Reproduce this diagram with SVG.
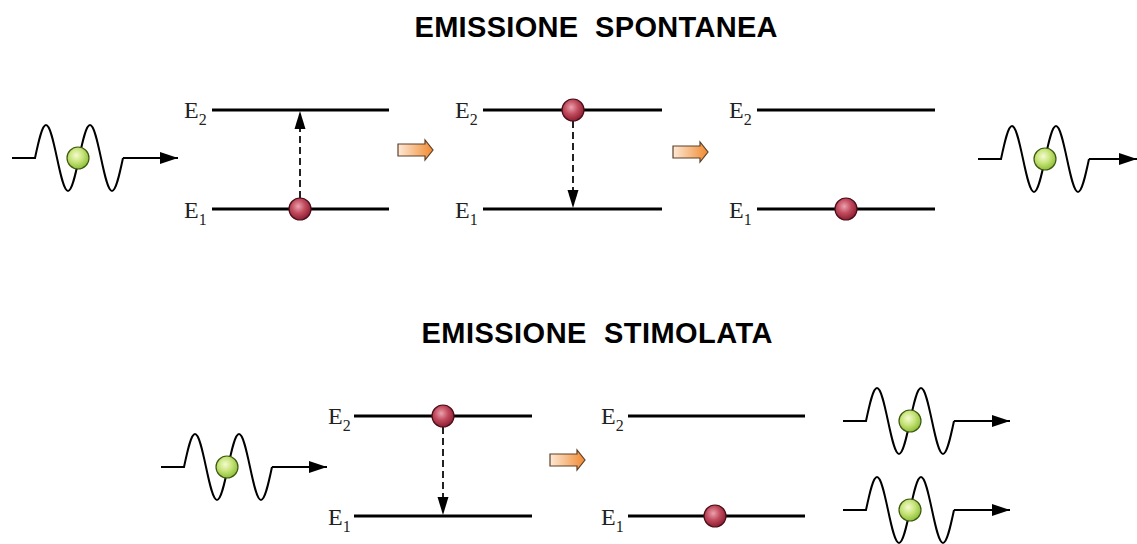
<svg xmlns="http://www.w3.org/2000/svg" xmlns:xlink="http://www.w3.org/1999/xlink" width="1137" height="544" viewBox="0 0 1137 544">
  <style>
    .title { font-family: "Liberation Sans", Arial, sans-serif; font-weight: bold; font-size: 29px; fill: #000; text-anchor: middle; }
    .lbl { font-family: "Liberation Serif", "Times New Roman", serif; font-size: 24px; fill: #222; }
    .sub { font-size: 16px; }
    .level { stroke: #000; stroke-width: 3; }
    .wave { fill: none; stroke: #000; stroke-width: 2; }
    .tail { stroke: #000; stroke-width: 2; marker-end: url(#head); }
    .jump { stroke: #222; stroke-width: 2; stroke-dasharray: 7 4; marker-end: url(#dhead); }
    .electron { fill: url(#red); stroke: #4a0d18; stroke-width: 1.2; }
    .photon { fill: url(#green); stroke: #3d5a10; stroke-width: 1.2; }
    .step { fill: url(#orange); stroke: #5e4028; stroke-width: 1.2; }
  </style>
  <defs>
    <radialGradient id="red" cx="0.42" cy="0.38" r="0.62">
      <stop offset="0" stop-color="#eaa2b0"/>
      <stop offset="0.5" stop-color="#c24c5e"/>
      <stop offset="1" stop-color="#8c1e33"/>
    </radialGradient>
    <radialGradient id="green" cx="0.42" cy="0.38" r="0.62">
      <stop offset="0" stop-color="#f4fbd2"/>
      <stop offset="0.5" stop-color="#c8e47a"/>
      <stop offset="1" stop-color="#8fbf3a"/>
    </radialGradient>
    <linearGradient id="orange" x1="0" y1="0" x2="1" y2="0">
      <stop offset="0" stop-color="#fde9d6"/>
      <stop offset="1" stop-color="#f08a30"/>
    </linearGradient>
    <marker id="head" markerUnits="userSpaceOnUse" markerWidth="18" markerHeight="12" refX="18" refY="6" orient="auto">
      <path d="M0,0 L18,6 L0,12 z" fill="#000"/>
    </marker>
    <marker id="dhead" markerUnits="userSpaceOnUse" markerWidth="18" markerHeight="12" refX="18" refY="6" orient="auto">
      <path d="M0,0.5 L18,6 L0,11.5 z" fill="#000"/>
    </marker>
    <!-- photon wave: lead-in, two sine periods (q=11, A=33) -->
    <path id="wv" class="wave" d="M0,0 h23 c3.59,-16.9 7.02,-33 11,-33 c3.98,0 7.41,16.1 11,33 c3.59,16.9 7.02,33 11,33 c3.98,0 7.41,-16.1 11,-33 c3.59,-16.9 7.02,-33 11,-33 c3.98,0 7.41,16.1 11,33 c3.59,16.9 7.02,33 11,33 c3.98,0 7.41,-16.1 11,-33"/>
    <polygon id="step" class="step" points="0,-6 27,-6 27,-10 35,0 27,10 27,6 0,6"/>
  </defs>

  <!-- headings -->
  <text class="title" x="596" y="37" textLength="363" lengthAdjust="spacing">EMISSIONE&#160; SPONTANEA</text>
  <text class="title" x="597" y="343" textLength="351" lengthAdjust="spacing">EMISSIONE&#160; STIMOLATA</text>

  <!-- spontaneous emission row -->
  <g id="photon-in-top">
    <use xlink:href="#wv" transform="translate(12,158)"/>
    <line class="tail" x1="123" y1="158" x2="178" y2="158"/>
    <circle class="photon" cx="78" cy="158" r="11"/>
  </g>

  <g id="levels-absorb">
    <line class="level" x1="212" y1="110" x2="389" y2="110"/>
    <line class="level" x1="212" y1="209" x2="389" y2="209"/>
    <text class="lbl" x="184" y="118">E<tspan class="sub" dy="7">2</tspan></text>
    <text class="lbl" x="184" y="218">E<tspan class="sub" dy="7">1</tspan></text>
  </g>

  <g id="step-1"><use xlink:href="#step" transform="translate(398,150)"/></g>

  <g id="levels-excited">
    <line class="level" x1="483" y1="110" x2="662" y2="110"/>
    <line class="level" x1="483" y1="209" x2="662" y2="209"/>
    <text class="lbl" x="455" y="118">E<tspan class="sub" dy="7">2</tspan></text>
    <text class="lbl" x="455" y="218">E<tspan class="sub" dy="7">1</tspan></text>
  </g>

  <g id="step-2"><use xlink:href="#step" transform="translate(673,152)"/></g>

  <g id="levels-ground">
    <line class="level" x1="757" y1="110" x2="935" y2="110"/>
    <line class="level" x1="757" y1="209" x2="935" y2="209"/>
    <text class="lbl" x="729" y="118">E<tspan class="sub" dy="7">2</tspan></text>
    <text class="lbl" x="729" y="218">E<tspan class="sub" dy="7">1</tspan></text>
  </g>

  <g id="photon-out-top">
    <use xlink:href="#wv" transform="translate(978,159)"/>
    <line class="tail" x1="1089" y1="159" x2="1137" y2="159"/>
    <circle class="photon" cx="1045" cy="159" r="11"/>
  </g>

  <!-- stimulated emission row -->
  <g id="photon-in-bottom">
    <use xlink:href="#wv" transform="translate(161,467)"/>
    <line class="tail" x1="272" y1="467" x2="327" y2="467"/>
    <circle class="photon" cx="227" cy="467" r="11"/>
  </g>

  <g id="levels-stim">
    <line class="level" x1="354" y1="416" x2="532" y2="416"/>
    <line class="level" x1="354" y1="516" x2="532" y2="516"/>
    <text class="lbl" x="328" y="424">E<tspan class="sub" dy="7">2</tspan></text>
    <text class="lbl" x="328" y="525">E<tspan class="sub" dy="7">1</tspan></text>
  </g>

  <g id="step-3"><use xlink:href="#step" transform="translate(550,460)"/></g>

  <g id="levels-after">
    <line class="level" x1="628" y1="416" x2="805" y2="416"/>
    <line class="level" x1="628" y1="516" x2="805" y2="516"/>
    <text class="lbl" x="601" y="424">E<tspan class="sub" dy="7">2</tspan></text>
    <text class="lbl" x="601" y="525">E<tspan class="sub" dy="7">1</tspan></text>
  </g>

  <g id="photon-out-a">
    <use xlink:href="#wv" transform="translate(843,421)"/>
    <line class="tail" x1="954" y1="421" x2="1010" y2="421"/>
    <circle class="photon" cx="910" cy="421" r="11"/>
  </g>

  <g id="photon-out-b">
    <use xlink:href="#wv" transform="translate(843,510)"/>
    <line class="tail" x1="954" y1="510" x2="1010" y2="510"/>
    <circle class="photon" cx="910" cy="510" r="11"/>
  </g>

  <!-- transitions -->
  <g id="connectors">
    <line class="jump" x1="300" y1="198" x2="300" y2="111"/>
    <line class="jump" x1="573" y1="121" x2="573" y2="208"/>
    <line class="jump" x1="443" y1="427" x2="443" y2="515"/>
  </g>

  <!-- electrons -->
  <g id="electrons">
    <circle class="electron" cx="300" cy="209" r="11"/>
    <circle class="electron" cx="573" cy="110" r="11"/>
    <circle class="electron" cx="846" cy="209" r="11"/>
    <circle class="electron" cx="443" cy="416" r="11"/>
    <circle class="electron" cx="715" cy="516" r="11"/>
  </g>
</svg>
